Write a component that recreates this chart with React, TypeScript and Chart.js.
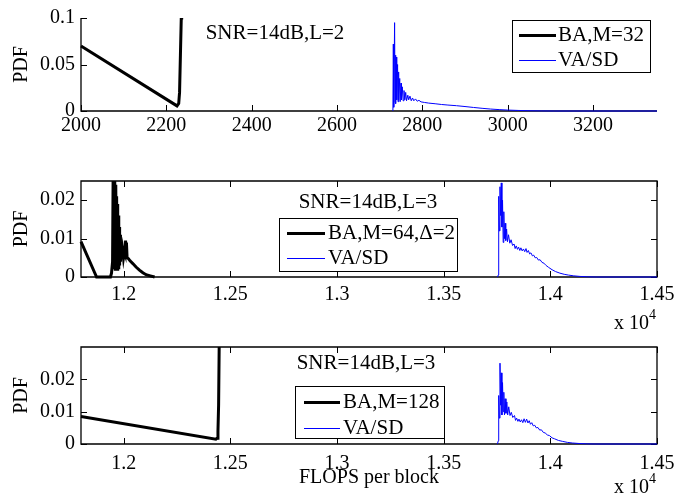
import { useEffect, useRef } from 'react';
import { Chart, registerables } from 'chart.js';

Chart.register(...registerables);

const W = 689;
const H = 497;
const FONT = '"Liberation Serif", "Times New Roman", serif';

// ---------------- data ----------------
const p1XTicks = [2000, 2200, 2400, 2600, 2800, 3000, 3200];
const p1YTicks = [0, 0.05, 0.1];
const p23XTicks = [12000, 12500, 13000, 13500, 14000, 14500];
const p2YTicks = [0, 0.01, 0.02];
const p3YTicks = [0, 0.01, 0.02];

const p1Labels = ['BA,M=32', 'VA/SD'];
const p2Labels = ['BA,M=64,\u0394=2', 'VA/SD'];
const p3Labels = ['BA,M=128', 'VA/SD'];

const p1Note = 'SNR=14dB,L=2';
const p2Note = 'SNR=14dB,L=3';
const p3Note = 'SNR=14dB,L=3';

const p1BA: [number, number][] = [
  [2000, 0.07], [2225, 0.0055], [2229, 0.008], [2231, 0.02], [2233, 0.06], [2235, 0.1], [2236, 0.12],
];
const p1VA: [number, number][] = [
  [2731, 0], [2732, 0.072], [2733, 0.004], [2735, 0.095], [2736, 0.01], [2737, 0.06], [2738, 0.008],
  [2739, 0.058], [2740, 0.012], [2742, 0.05], [2743, 0.01], [2744, 0.042], [2745, 0.012], [2747, 0.035],
  [2748, 0.01], [2750, 0.03], [2751, 0.012], [2753, 0.026], [2755, 0.011], [2757, 0.022], [2759, 0.012],
  [2761, 0.02], [2763, 0.011], [2766, 0.017], [2768, 0.012], [2771, 0.016], [2774, 0.011], [2777, 0.014],
  [2780, 0.011], [2784, 0.013], [2788, 0.0105], [2792, 0.0115], [2797, 0.0098], [2805, 0.0092],
  [2815, 0.0085], [2830, 0.0078], [2845, 0.007], [2860, 0.0064], [2880, 0.0057], [2900, 0.0048],
  [2920, 0.0038], [2940, 0.0029], [2960, 0.0021], [2980, 0.0015], [3000, 0.001], [3025, 0.0006],
  [3050, 0.0003], [3080, 0.0001], [3110, 0], [3350, 0],
];

const p2BA: [number, number][] = [
  [11800, 0.0092], [11873, 0], [11938, 0], [11943, 0.001], [11948, 0.004], [11951, 0.03], [11953, 0.002],
  [11955, 0.028], [11957, 0.003], [11959, 0.026], [11961, 0.002], [11963, 0.024], [11965, 0.003],
  [11967, 0.021], [11969, 0.002], [11971, 0.019], [11973, 0.003], [11975, 0.016], [11977, 0.002],
  [11979, 0.013], [11981, 0.003], [11983, 0.011], [11985, 0.004], [11988, 0.009], [11991, 0.005],
  [11995, 0.007], [11999, 0.005], [12003, 0.0065], [12006, 0.006], [12009, 0.0095], [12011, 0.005],
  [12013, 0.009], [12016, 0.005], [12022, 0.0048], [12030, 0.0042], [12043, 0.0035], [12058, 0.0026],
  [12074, 0.0018], [12090, 0.0011], [12105, 0.0006], [12125, 0.0003], [12145, 0],
];
const p2VA: [number, number][] = [
  [13752, 0], [13756, 0.0005], [13758, 0.021], [13761, 0.012], [13764, 0.0235], [13767, 0.016],
  [13770, 0.0245], [13773, 0.013], [13776, 0.02], [13779, 0.009], [13782, 0.017], [13785, 0.01],
  [13788, 0.014], [13791, 0.0095], [13795, 0.0125], [13799, 0.0092], [13804, 0.011], [13810, 0.0088],
  [13816, 0.0097], [13823, 0.0082], [13830, 0.0086], [13835, 0.0074], [13840, 0.0081], [13846, 0.0072],
  [13851, 0.0078], [13857, 0.0069], [13862, 0.0076], [13868, 0.0068], [13874, 0.0073], [13880, 0.0066],
  [13886, 0.0074], [13891, 0.0064], [13897, 0.0069], [13903, 0.006], [13909, 0.0063], [13916, 0.0055],
  [13922, 0.0057], [13929, 0.005], [13936, 0.0051], [13944, 0.0044], [13952, 0.0045], [13961, 0.0038],
  [13970, 0.0036], [13980, 0.003], [13992, 0.0025], [14008, 0.0019], [14025, 0.0014], [14045, 0.001],
  [14065, 0.0007], [14085, 0.0005], [14110, 0.0003], [14140, 0.00015], [14175, 0.00005], [14215, 0],
  [14500, 0],
];

const p3BA: [number, number][] = [
  [11800, 0.0085], [12432, 0.0015], [12438, 0.0018], [12442, 0.004], [12445, 0.012], [12448, 0.032],
];
const p3VA: [number, number][] = [
  [13752, 0], [13756, 0.001], [13758, 0.015], [13761, 0.008], [13764, 0.025], [13767, 0.012],
  [13770, 0.022], [13773, 0.009], [13776, 0.019], [13779, 0.01], [13782, 0.016], [13785, 0.009],
  [13788, 0.014], [13792, 0.0095], [13796, 0.013], [13800, 0.009], [13805, 0.0115], [13811, 0.0088],
  [13817, 0.0098], [13824, 0.0082], [13832, 0.0088], [13837, 0.0073], [13842, 0.008], [13848, 0.007],
  [13853, 0.0077], [13859, 0.0068], [13865, 0.0075], [13871, 0.0066], [13877, 0.0078], [13883, 0.0067],
  [13889, 0.0077], [13895, 0.0065], [13901, 0.0072], [13907, 0.0061], [13913, 0.0066], [13920, 0.0056],
  [13927, 0.0058], [13934, 0.005], [13942, 0.0051], [13950, 0.0043], [13958, 0.0044], [13967, 0.0036],
  [13976, 0.0034], [13986, 0.0028], [13996, 0.0026], [14008, 0.0019], [14020, 0.0016], [14038, 0.0011],
  [14058, 0.0008], [14080, 0.0005], [14105, 0.0003], [14135, 0.00015], [14170, 0.00005], [14210, 0],
  [14500, 0],
];

// ---------------- layout / style ----------------
type Legend = { left: number; top: number; right: number; bottom: number; line0: number; line1: number; textX: number; rows: number[] };
type Panel = {
  ba: [number, number][];
  va: [number, number][];
  labels: string[];
  note: string;
  noteX: number;
  noteY: number;
  xMin: number;
  xMax: number;
  yMax: number;
  xTicks: number[];
  yTicks: number[];
  xScaleDiv: number;
  top: number;
  bottom: number;
  xAxisH: number;
  xPad: number;
  box: boolean;
  legend: Legend;
  expY?: number;
  xTitle?: string;
};

const panels: Panel[] = [
  {
    ba: p1BA, va: p1VA, labels: p1Labels, note: p1Note, noteX: 275, noteY: 33,
    xMin: 2000, xMax: 3350, yMax: 0.1, xTicks: p1XTicks, yTicks: p1YTicks, xScaleDiv: 1,
    top: 14, bottom: 111, xAxisH: 30, xPad: 3, box: false,
    legend: { left: 512, top: 20, right: 650, bottom: 72, line0: 519, line1: 556, textX: 558, rows: [35, 60] },
  },
  {
    ba: p2BA, va: p2VA, labels: p2Labels, note: p2Note, noteX: 368, noteY: 202,
    xMin: 11800, xMax: 14500, yMax: 0.025, xTicks: p23XTicks, yTicks: p2YTicks, xScaleDiv: 10000,
    top: 181, bottom: 277, xAxisH: 30, xPad: 6, box: true,
    legend: { left: 279, top: 218, right: 457, bottom: 271, line0: 287, line1: 325, textX: 328, rows: [233, 258] },
    expY: 324,
  },
  {
    ba: p3BA, va: p3VA, labels: p3Labels, note: p3Note, noteX: 366, noteY: 363,
    xMin: 11800, xMax: 14500, yMax: 0.03, xTicks: p23XTicks, yTicks: p3YTicks, xScaleDiv: 10000,
    top: 347, bottom: 444, xAxisH: 46, xPad: 8, box: true,
    legend: { left: 295, top: 386, right: 444, bottom: 438, line0: 304, line1: 340, textX: 343, rows: [402, 428] },
    expY: 488, xTitle: 'FLOPS per block',
  },
];

const fmt = (v: number) => String(Number(v.toFixed(4)));

function makeDecor(p: Panel) {
  return {
    id: 'decor',
    beforeDatasetsDraw(chart: any) {
      const { ctx, chartArea: a } = chart;
      const xs = chart.scales.x;
      const ys = chart.scales.y;
      ctx.save();
      ctx.strokeStyle = '#000';
      ctx.lineWidth = 1.3;
      ctx.beginPath();
      if (p.box) {
        ctx.rect(a.left, a.top, a.right - a.left, a.bottom - a.top);
      } else {
        ctx.moveTo(a.left, a.top);
        ctx.lineTo(a.left, a.bottom);
        ctx.lineTo(a.right, a.bottom);
      }
      ctx.stroke();
      const tl = 6;
      ctx.lineWidth = 1;
      ctx.beginPath();
      for (const t of p.xTicks) {
        const x = Math.round(xs.getPixelForValue(t)) + 0.5;
        ctx.moveTo(x, a.bottom);
        ctx.lineTo(x, a.bottom - tl);
        if (p.box) {
          ctx.moveTo(x, a.top);
          ctx.lineTo(x, a.top + tl);
        }
      }
      for (const t of p.yTicks) {
        const y = Math.round(ys.getPixelForValue(t)) + 0.5;
        ctx.moveTo(a.left, y);
        ctx.lineTo(a.left + tl, y);
        if (p.box) {
          ctx.moveTo(a.right, y);
          ctx.lineTo(a.right - tl, y);
        }
      }
      ctx.stroke();
      ctx.restore();
    },
    afterDraw(chart: any) {
      const { ctx } = chart;
      ctx.save();
      ctx.fillStyle = '#000';
      ctx.font = `21px ${FONT}`;
      ctx.textBaseline = 'middle';
      ctx.textAlign = 'center';
      ctx.fillText(p.note, p.noteX, p.noteY);
      // legend
      const L = p.legend;
      ctx.fillStyle = '#fff';
      ctx.fillRect(L.left, L.top, L.right - L.left, L.bottom - L.top);
      ctx.strokeStyle = '#000';
      ctx.lineWidth = 1;
      ctx.strokeRect(L.left + 0.5, L.top + 0.5, L.right - L.left, L.bottom - L.top);
      const colors = ['#000000', '#0000ff'];
      const widths = [3, 1];
      ctx.textAlign = 'left';
      for (let i = 0; i < 2; i++) {
        ctx.strokeStyle = colors[i];
        ctx.lineWidth = widths[i];
        ctx.beginPath();
        ctx.moveTo(L.line0, L.rows[i] + 0.5);
        ctx.lineTo(L.line1, L.rows[i] + 0.5);
        ctx.stroke();
        ctx.fillStyle = '#000';
        ctx.fillText(p.labels[i], L.textX, L.rows[i]);
      }
      if (p.expY !== undefined) {
        ctx.font = `20px ${FONT}`;
        ctx.fillText('x 10', 614, p.expY);
        ctx.font = `14px ${FONT}`;
        ctx.fillText('4', 649, p.expY - 9);
      }
      ctx.restore();
    },
  };
}

function buildConfig(p: Panel): any {
  const tickFont = { family: FONT, size: 20 };
  return {
    type: 'line',
    data: {
      datasets: [
        {
          label: p.labels[0],
          data: p.ba.map(([x, y]) => ({ x, y })),
          borderColor: '#000000',
          borderWidth: 3,
          pointRadius: 0,
          tension: 0,
          fill: false,
          clip: { left: 2, top: 0, right: 2, bottom: 4 },
        },
        {
          label: p.labels[1],
          data: p.va.map(([x, y]) => ({ x, y })),
          borderColor: '#0000ff',
          borderWidth: 1,
          pointRadius: 0,
          tension: 0,
          fill: false,
          clip: { left: 2, top: 0, right: 2, bottom: 4 },
        },
      ],
    },
    options: {
      responsive: false,
      animation: false,
      devicePixelRatio: 1,
      events: [],
      layout: { padding: { left: 10, right: 32, top: p.top, bottom: H - p.bottom - p.xAxisH } },
      plugins: { legend: { display: false }, tooltip: { enabled: false } },
      scales: {
        x: {
          type: 'linear',
          min: p.xMin,
          max: p.xMax,
          grid: { display: false, drawTicks: false },
          border: { display: false },
          ticks: {
            font: tickFont,
            color: '#000',
            padding: p.xPad,
            maxRotation: 0,
            autoSkip: false,
            includeBounds: false,
            callback: (v: number) => fmt(v / p.xScaleDiv),
          },
          afterBuildTicks: (s: any) => {
            s.ticks = p.xTicks.map((v) => ({ value: v }));
          },
          afterFit: (s: any) => {
            s.height = p.xAxisH;
          },
          title: p.xTitle
            ? { display: true, text: p.xTitle, color: '#000', font: tickFont, padding: 0 }
            : { display: false },
        },
        y: {
          type: 'linear',
          min: 0,
          max: p.yMax,
          grid: { display: false, drawTicks: false },
          border: { display: false },
          ticks: {
            font: tickFont,
            color: '#000',
            padding: 6,
            autoSkip: false,
            includeBounds: false,
            callback: (v: number) => fmt(v),
          },
          afterBuildTicks: (s: any) => {
            s.ticks = p.yTicks.map((v) => ({ value: v }));
          },
          afterFit: (s: any) => {
            s.width = 71;
          },
          title: { display: true, text: 'PDF', color: '#000', font: tickFont, padding: 0 },
        },
      },
    },
    plugins: [makeDecor(p)],
  };
}

function PanelChart({ panel }: { panel: Panel }) {
  const ref = useRef<HTMLCanvasElement>(null);
  useEffect(() => {
    const chart = new Chart(ref.current as HTMLCanvasElement, buildConfig(panel));
    return () => chart.destroy();
  }, [panel]);
  return (
    <canvas
      ref={ref}
      width={W}
      height={H}
      style={{ position: 'absolute', left: 0, top: 0, width: W, height: H }}
    />
  );
}

export default function App() {
  return (
    <div style={{ position: 'absolute', left: 0, top: 0, width: W, height: H, background: '#fff' }}>
      {panels.map((p, i) => (
        <PanelChart key={i} panel={p} />
      ))}
    </div>
  );
}
